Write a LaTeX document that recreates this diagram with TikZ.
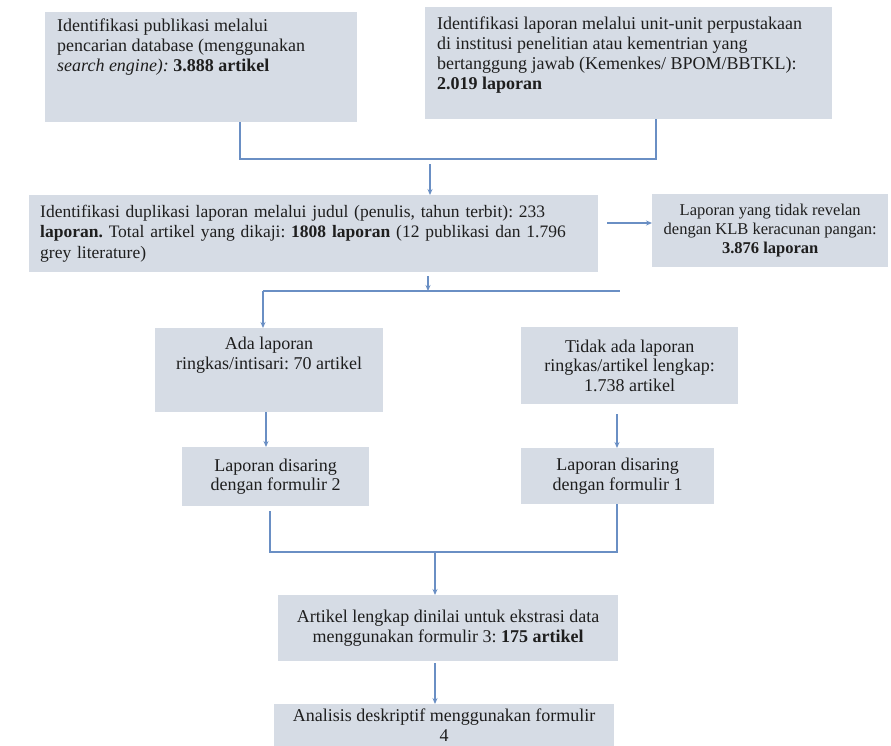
\documentclass[tikz,border=0pt]{standalone}
\usepackage{fontspec}
\setmainfont{Liberation Serif}[
  UprightFont={Liberation Serif},
  BoldFont={Liberation Serif Bold},
  ItalicFont={Liberation Serif Italic},
  BoldItalicFont={Liberation Serif Bold Italic}]
\usetikzlibrary{arrows.meta}
\definecolor{boxfill}{HTML}{D6DCE5}
\definecolor{lnc}{HTML}{6A8FC4}
\definecolor{txc}{HTML}{1E1E1E}
\frenchspacing
\begin{document}
\begin{tikzpicture}[x=1pt, y=-1pt,
  box/.style={fill=boxfill, draw=none, inner sep=0pt, anchor=north west, text=txc},
  txt/.style={text=txc, inner sep=0pt},
  ln/.style={draw=lnc, line width=1.2pt},
  arr/.style={ln, -{Stealth[length=6pt,width=5pt]}},
  fmain/.style={font=\fontsize{18}{19.8}\selectfont},
  fsmall/.style={font=\fontsize{16.5}{18.7}\selectfont}]
\useasboundingbox[fill=white] (0,0) rectangle (891,745);

% boxes
\node[box, minimum width=312pt, minimum height=110pt] (b1) at (45,12) {};
\node[txt, fmain, anchor=north west, align=left] (t1) at (57,19)
  {Identifikasi publikasi melalui\\pencarian database (menggunakan\\\textit{search engine):} \textbf{3.888 artikel}};

\node[box, minimum width=407pt, minimum height=112pt] (b2) at (425,7) {};
\node[txt, fmain, anchor=north west, align=left] (t2) at (437,17)
  {Identifikasi laporan melalui unit-unit perpustakaan\\di institusi penelitian atau kementrian yang\\bertanggung jawab (Kemenkes/ BPOM/BBTKL):\\\textbf{2.019 laporan}};

\node[box, minimum height=77pt, text width=547pt, inner xsep=11pt, align=left,
  font=\fontsize{17.5}{20.5}\selectfont] (b3) at (29,195)
  {Identifikasi duplikasi laporan melalui judul (penulis, tahun terbit): 233\\\textbf{laporan.} Total artikel yang dikaji: \textbf{1808 laporan} (12 publikasi dan 1.796\\grey literature)};

\node[box, fsmall, minimum width=236pt, minimum height=73pt, align=center] (b4) at (652,194)
  {Laporan yang tidak revelan\\dengan KLB keracunan pangan:\\\textbf{3.876 laporan}};

\node[box, minimum width=228pt, minimum height=84pt] (b5) at (155,328) {};
\node[txt, fmain, anchor=north, align=center] (t5) at (269,337)
  {Ada laporan\\ringkas/intisari: 70 artikel};

\node[box, fmain, minimum width=187pt, minimum height=59pt, align=center] (b6) at (182,447)
  {Laporan disaring\\dengan formulir 2};

\node[box, fmain, minimum width=217pt, minimum height=77pt, align=center] (b7) at (521,327)
  {Tidak ada laporan\\ringkas/artikel lengkap:\\1.738 artikel};

\node[box, fmain, minimum width=193pt, minimum height=56pt, align=center] (b8) at (521,448)
  {Laporan disaring\\dengan formulir 1};

\node[box, fmain, minimum width=340pt, minimum height=66pt, align=center] (b9) at (278,595)
  {Artikel lengkap dinilai untuk ekstrasi data\\menggunakan formulir 3: \textbf{175 artikel}};

\node[box, fmain, minimum width=340pt, minimum height=42pt, align=center] (b10) at (274,704)
  {Analisis deskriptif menggunakan formulir\\4};

% connectors
\coordinate (j1) at (240,159);
\coordinate (j2) at (656,159);
\draw[ln] (b1.south -| j1) -- (j1) -- (j2) -- (b2.south -| j2);
\coordinate (a1) at (430,164);
\draw[arr] (a1) -- (b3.north -| a1);

\coordinate (a2) at (607,223);
\draw[arr] (a2) -- (b4.west |- a2);

\coordinate (j3) at (263,291);
\coordinate (j4) at (620,291);
\coordinate (a3) at (428,276);
\draw[ln] (j3) -- (j4);
\draw[arr] (a3) -- (a3 |- j3);
\draw[arr] (j3) -- (b5.north -| j3);

\coordinate (a4) at (266,0);
\draw[arr] (b5.south -| a4) -- (b6.north -| a4);

\coordinate (a5) at (617,0);
\draw[arr, shorten <=10pt] (b7.south -| a5) -- (b8.north -| a5);

\coordinate (j5) at (270,552);
\coordinate (j6) at (617,552);
\draw[ln, shorten <=5pt] (b6.south -| j5) -- (j5) -- (j6) -- (b8.south -| j6);
\coordinate (j7) at (435,552);
\draw[arr] (j7) -- (b9.north -| j7);

\coordinate (a6) at (435,0);
\draw[arr, shorten <=2pt] (b9.south -| a6) -- (b10.north -| a6);
\end{tikzpicture}
\end{document}
